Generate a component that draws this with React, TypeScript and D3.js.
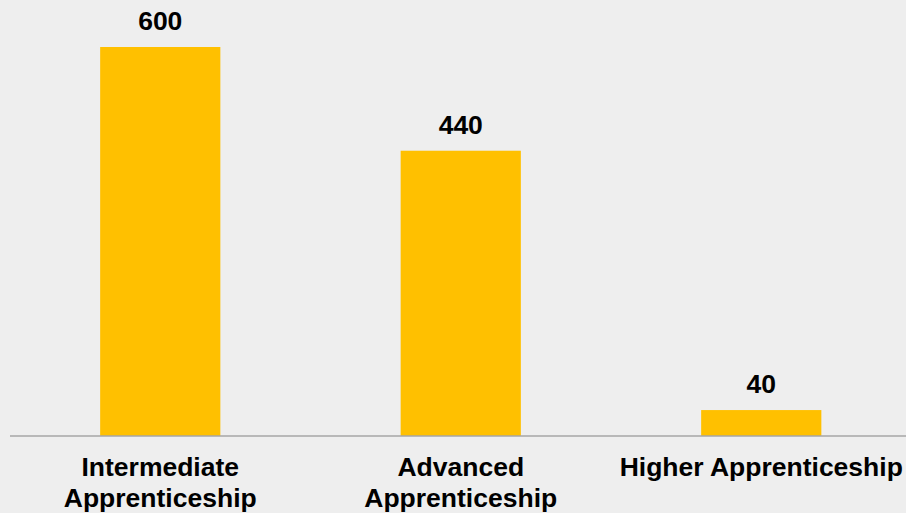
import * as React from 'react'
import * as d3 from 'd3'

const categories = ['Intermediate Apprenticeship', 'Advanced Apprenticeship', 'Higher Apprenticeship']
const categoryLines = [['Intermediate', 'Apprenticeship'], ['Advanced', 'Apprenticeship'], ['Higher Apprenticeship']]
const values = [600, 440, 40]

const width = 906
const height = 513
const baseline = 436
const font = 'Arial, "Liberation Sans", Helvetica, sans-serif'

export default function App() {
  const x = d3.scaleBand<string>()
    .domain(categories)
    .range([10, 911.5])
    .paddingInner(0.6)
    .paddingOuter(0.3)

  const y = d3.scaleLinear()
    .domain([0, 600])
    .range([baseline, 47])

  return (
    <svg
      width={width}
      height={height}
      style={{ position: 'absolute', left: 0, top: 0, background: '#eeeeee' }}
      fontFamily={font}
    >
      {categories.map((c, i) => {
        const bx = x(c)!
        const cx = bx + x.bandwidth() / 2
        return (
          <g key={c}>
            <rect
              x={bx}
              y={y(values[i])}
              width={x.bandwidth()}
              height={baseline - y(values[i])}
              fill="#ffc000"
            />
            <text
              x={cx}
              y={y(values[i]) - 17}
              textAnchor="middle"
              fontSize={26.5}
              fontWeight="bold"
              fill="#000"
            >
              {values[i]}
            </text>
            <text x={cx} y={476} textAnchor="middle" fontSize={26.5} fontWeight="bold" fill="#000">
              {categoryLines[i].map((line, j) => (
                <tspan key={j} x={cx} dy={j === 0 ? 0 : 30.7}>{line}</tspan>
              ))}
            </text>
          </g>
        )
      })}
      <line x1={10} x2={width} y1={baseline} y2={baseline} stroke="#a6a6a6" strokeWidth={1.5} />
    </svg>
  )
}
